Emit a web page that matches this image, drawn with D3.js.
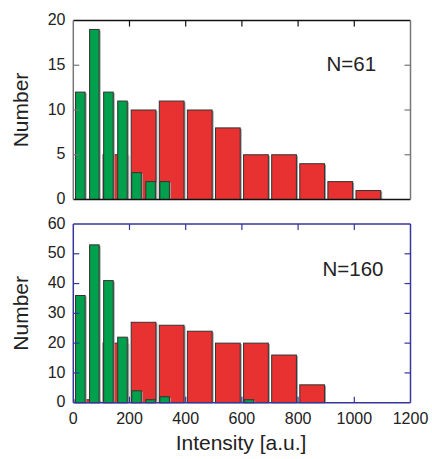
<!DOCTYPE html>
<html><head><meta charset="utf-8">
<script src="https://cdn.jsdelivr.net/npm/d3@7"></script>
<style>
body{margin:0;background:#fff;}
text{font-family:"Liberation Sans",Arial,sans-serif;fill:#222;}
</style></head>
<body><svg id="c" width="432" height="459"></svg>
<script>
// Data
const redBins = [50,150,250,350,450,550,650,750,850,950,1050,1150]; // centers of 100-wide bins
const greenBins = [25,75,125,175,225,275,325,375,425,475,525,575,625,675];
const topRed = [0,5,10,11,10,8,5,5,4,2,1,0];
const topGreen = [12,19,12,11,3,2,2,0,0,0,0,0,0,0];
const botRed = [1,20,27,26,24,20,20,16,6,0,0,0];
const botGreen = [36,53,41,22,4,1,2,0,0,0,0,0,1,0];
const xTicks = [0,200,400,600,800,1000,1200];
const topYTicks = [0,5,10,15,20];
const botYTicks = [0,10,20,30,40,50,60];

const svg = d3.select("#c");
const x = d3.scaleLinear().domain([0,1200]).range([73.3,410.5]);

function panel(cfg){
  const y = d3.scaleLinear().domain(cfg.ydom).range([cfg.y0, cfg.y1]);
  const g = svg.append("g");
  const RED_HW = 44, GREEN_HW = 17;
  function bars(centers, vals, hw, color){
    const d = centers.map((c,i)=>({c, v:vals[i]})).filter(e=>e.v>0);
    g.selectAll(null).data(d).enter().append("rect")
      .attr("x", e=>x(e.c-hw)+1.5).attr("y", e=>y(e.v)+1)
      .attr("width", e=>x(e.c+hw)-x(e.c-hw)).attr("height", e=>y(0)-y(e.v)-1)
      .attr("fill","#a0a0a0");
    g.selectAll(null).data(d).enter().append("rect")
      .attr("x", e=>x(e.c-hw)).attr("y", e=>y(e.v))
      .attr("width", e=>x(e.c+hw)-x(e.c-hw)).attr("height", e=>y(0)-y(e.v))
      .attr("fill",color).attr("stroke","#333").attr("stroke-width",1);
  }
  bars(redBins, cfg.red, RED_HW, "#e83232");
  bars(greenBins, cfg.green, GREEN_HW, "#00a04c");

  const ax = cfg.axisColor, sideC = cfg.sideColor;
  const x0 = x.range()[0], x1 = x.range()[1];
  const yb = y(cfg.ydom[0]), yt = y(cfg.ydom[1]);
  const tl = 6;
  const innerX = xTicks.filter(t=>t>0 && t<1200);
  g.selectAll(null).data(innerX).enter().append("line")
    .attr("x1",d=>x(d)).attr("x2",d=>x(d)).attr("y1",yt).attr("y2",yt+tl)
    .attr("stroke",ax).attr("stroke-width",1.2);
  if(cfg.bottomTicks){
    g.selectAll(null).data(innerX).enter().append("line")
      .attr("x1",d=>x(d)).attr("x2",d=>x(d)).attr("y1",yb).attr("y2",yb-tl)
      .attr("stroke",ax).attr("stroke-width",1.2);
  }
  const innerY = cfg.yticks.slice(1,-1);
  g.selectAll(null).data(innerY).enter().append("line")
    .attr("x1",x0).attr("x2",x0+tl).attr("y1",d=>y(d)).attr("y2",d=>y(d))
    .attr("stroke",sideC).attr("stroke-width",1.2);
  g.selectAll(null).data(innerY).enter().append("line")
    .attr("x1",x1).attr("x2",x1-tl).attr("y1",d=>y(d)).attr("y2",d=>y(d))
    .attr("stroke",sideC).attr("stroke-width",1.2);
  g.append("line").attr("x1",x0).attr("x2",x1).attr("y1",yt).attr("y2",yt).attr("stroke",ax).attr("stroke-width",1.5);
  g.append("line").attr("x1",x0).attr("x2",x1).attr("y1",yb).attr("y2",yb).attr("stroke",ax).attr("stroke-width",1.5);
  g.append("line").attr("x1",x0).attr("x2",x0).attr("y1",yt).attr("y2",yb).attr("stroke",sideC).attr("stroke-width",1.5);
  g.append("line").attr("x1",x1).attr("x2",x1).attr("y1",yt).attr("y2",yb).attr("stroke",sideC).attr("stroke-width",1.5);
  g.selectAll(null).data(cfg.yticks).enter().append("text")
    .attr("x",65.5).attr("y",d=>y(d)-1).attr("dy","0.35em").attr("text-anchor","end")
    .attr("font-size",16).text(d=>d);
  if(cfg.xlabels){
    g.selectAll(null).data(xTicks).enter().append("text")
      .attr("x",d=>x(d)).attr("y",yb+21).attr("text-anchor","middle")
      .attr("font-size",16).text(d=>d);
  }
  g.append("text").attr("transform",`translate(27.5,${(yt+yb)/2}) rotate(-90)`)
    .attr("text-anchor","middle").attr("font-size",21).text("Number");
  g.append("text").attr("x",cfg.nx).attr("y",cfg.ny).attr("font-size",20.5).text(cfg.nlabel);
}

panel({ydom:[0,20], y0:199.5, y1:20.5, red:topRed, green:topGreen, yticks:topYTicks,
  axisColor:"#111", sideColor:"#777", bottomTicks:false, xlabels:false, nlabel:"N=61", nx:326.5, ny:71});
panel({ydom:[0,60], y0:402.7, y1:224, red:botRed, green:botGreen, yticks:botYTicks,
  axisColor:"#35359a", sideColor:"#35359a", bottomTicks:true, xlabels:true, nlabel:"N=160", nx:322.5, ny:275.5});

svg.append("text").attr("x",(175+307)/2).attr("y",450).attr("text-anchor","middle")
  .attr("font-size",21).text("Intensity [a.u.]");
</script></body></html>
